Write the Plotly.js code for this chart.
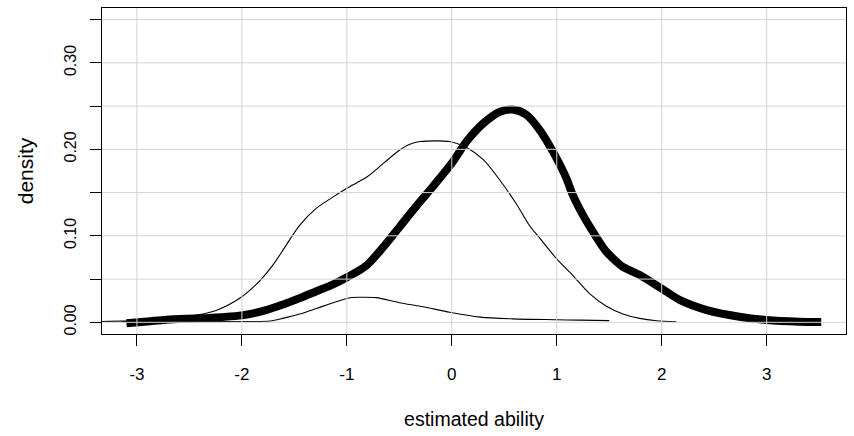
<!DOCTYPE html>
<html>
<head>
<meta charset="utf-8">
<script src="https://cdn.plot.ly/plotly-3.0.1.min.js"></script>
<style>html,body{margin:0;padding:0;background:#fff;}#chart{width:854px;height:436px;}</style>
</head>
<body>
<div id="chart"></div>
<script>
// Thick curve (overall estimated ability density)
const thickX = [-3.10, -2.9, -2.72, -2.4, -2.2, -2.0, -1.77, -1.6, -1.45, -1.29, -1.13, -1.0, -0.91, -0.81, -0.66, -0.5, -0.34, -0.18, 0.0, 0.14, 0.30, 0.46, 0.58, 0.71, 0.84, 0.965, 1.09, 1.15, 1.25, 1.38, 1.47, 1.57, 1.63, 1.79, 2.0, 2.17, 2.43, 2.74, 3.0, 3.31, 3.52];
const thickY = [-0.001, 0.001, 0.003, 0.0046, 0.006, 0.008, 0.014, 0.021, 0.028, 0.036, 0.044, 0.052, 0.058, 0.066, 0.086, 0.110, 0.134, 0.157, 0.184, 0.209, 0.230, 0.2435, 0.246, 0.240, 0.222, 0.197, 0.167, 0.148, 0.124, 0.098, 0.082, 0.070, 0.064, 0.0547, 0.039, 0.026, 0.0142, 0.0065, 0.0027, 0.0007, 0.0003];

// Large thin curve
const bigX = [-3.4, -3.0, -2.72, -2.4, -2.24, -2.0, -1.83, -1.70, -1.59, -1.45, -1.29, -1.13, -1.0, -0.81, -0.65, -0.50, -0.40, -0.30, -0.02, 0.14, 0.30, 0.46, 0.62, 0.74, 0.84, 0.995, 1.15, 1.31, 1.47, 1.63, 1.79, 1.95, 2.14];
const bigY = [0.0008, 0.002, 0.0035, 0.009, 0.014, 0.0296, 0.048, 0.067, 0.087, 0.112, 0.132, 0.145, 0.155, 0.168, 0.184, 0.199, 0.206, 0.209, 0.209, 0.202, 0.188, 0.164, 0.136, 0.112, 0.097, 0.074, 0.0547, 0.0335, 0.0188, 0.0096, 0.0046, 0.0019, 0.0007];

// Small thin curve
const smallX = [-3.15, -2.5, -2.0, -1.73, -1.61, -1.45, -1.29, -1.13, -0.97, -0.85, -0.72, -0.50, -0.27, -0.02, 0.27, 0.58, 1.0, 1.22, 1.5];
const smallY = [0.0008, 0.0008, 0.0009, 0.0015, 0.0046, 0.0096, 0.016, 0.0227, 0.0285, 0.029, 0.0285, 0.0227, 0.018, 0.0116, 0.006, 0.004, 0.003, 0.0025, 0.002];

// Axis ticks
const xTickVals = [-3, -2, -1, 0, 1, 2, 3];
const xTickText = ['-3', '-2', '-1', '0', '1', '2', '3'];
const yTickVals = [0, 0.05, 0.10, 0.15, 0.20, 0.25, 0.30, 0.35];
const yTickText = ['0.00', '', '0.10', '', '0.20', '', '0.30', ''];

const xTitle = 'estimated ability';
const yTitle = 'density';

const fam = 'Liberation Sans, Arial, sans-serif';
const xTickFont = {family: fam, size: 17, color: '#000'};
const yTickFont = {family: fam, size: 16, color: '#000'};
const xTitleFont = {family: fam, size: 19.5, color: '#000'};
const yTitleFont = {family: fam, size: 21, color: '#000'};
const gridColor = '#d3d3d3';

const traces = [
  {x: bigX, y: bigY, type: 'scatter', mode: 'lines', line: {color: '#000', width: 1.1, shape: 'spline', smoothing: 0.8}, hoverinfo: 'skip'},
  {x: smallX, y: smallY, type: 'scatter', mode: 'lines', line: {color: '#000', width: 1.1, shape: 'spline', smoothing: 0.8}, hoverinfo: 'skip'},
  {x: thickX, y: thickY, type: 'scatter', mode: 'lines', line: {color: '#000', width: 8, shape: 'spline', smoothing: 0.8}, hoverinfo: 'skip'}
];

const shapes = [];
xTickVals.forEach(v => shapes.push({type: 'line', xref: 'x', yref: 'paper', x0: v, x1: v, y0: 0, y1: 1, line: {color: gridColor, width: 1}, layer: 'above'}));
yTickVals.forEach(v => shapes.push({type: 'line', xref: 'paper', yref: 'y', x0: 0, x1: 1, y0: v, y1: v, line: {color: gridColor, width: 1}, layer: 'above'}));

const layout = {
  width: 854, height: 436,
  margin: {l: 102, r: 8, t: 8, b: 102},
  paper_bgcolor: '#fff', plot_bgcolor: '#fff',
  showlegend: false,
  font: {family: fam, size: 16, color: '#000'},
  shapes: shapes,
  xaxis: {
    range: [-3.333, 3.756], tickvals: xTickVals, ticktext: xTickText,
    ticks: 'outside', ticklen: 11, tickwidth: 1, tickcolor: '#000',
    showline: true, mirror: true, linecolor: '#000', linewidth: 1,
    showgrid: false, zeroline: false, ticklabelstandoff: 14,
    tickfont: xTickFont,
    title: {text: xTitle, font: xTitleFont, standoff: 28}
  },
  yaxis: {
    range: [-0.0135, 0.3634], tickvals: yTickVals, ticktext: yTickText,
    ticks: 'outside', ticklen: 11, tickwidth: 1, tickcolor: '#000',
    showline: true, mirror: true, linecolor: '#000', linewidth: 1,
    showgrid: false, zeroline: false, tickangle: -90, ticklabelstandoff: 8,
    tickfont: yTickFont,
    title: {text: yTitle, font: yTitleFont, standoff: 22}
  }
};

Plotly.newPlot('chart', traces, layout, {staticPlot: true, displayModeBar: false});
</script>
</body>
</html>
